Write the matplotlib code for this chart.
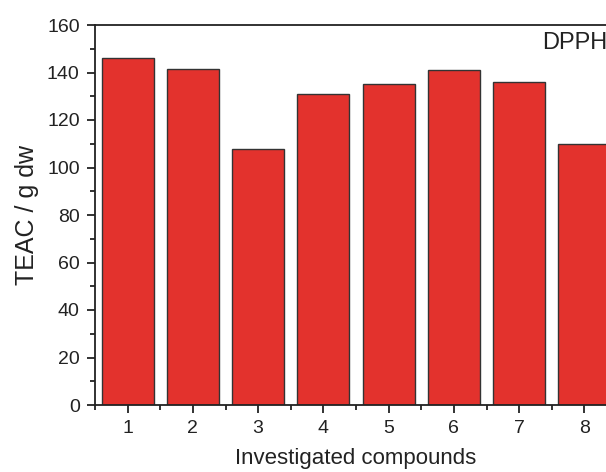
import matplotlib.pyplot as plt
from matplotlib.ticker import MultipleLocator

compounds = [1, 2, 3, 4, 5, 6, 7, 8]
teac = [146, 141.5, 108, 131, 135, 141, 136, 110]

plt.rcParams['font.family'] = ['Liberation Sans', 'DejaVu Sans']

fig = plt.figure(figsize=(6.06, 4.72), dpi=100)
ax = fig.add_axes([95 / 606, 67 / 472, 522 / 606, 380 / 472])

ax.bar(compounds, teac, width=0.8, color='#e3322d', edgecolor='#333333', linewidth=1.0)

ax.set_xlim(0.5, 8.5)
ax.set_ylim(0, 160)
ax.set_xticks(compounds)
ax.xaxis.set_minor_locator(MultipleLocator(0.5))
ax.yaxis.set_major_locator(MultipleLocator(20))
ax.yaxis.set_minor_locator(MultipleLocator(10))

ax.tick_params(axis='both', which='major', direction='out', length=6, width=1.3,
               labelsize=14, color='#222222', labelcolor='#222222', pad=5)
ax.tick_params(axis='both', which='minor', direction='out', length=3.5, width=1.3,
               color='#222222')
ax.tick_params(axis='x', which='both', top=False)
ax.tick_params(axis='y', which='both', right=False)
for s in ax.spines.values():
    s.set_linewidth(1.3)
    s.set_color('#222222')

ax.set_xlabel('Investigated compounds', fontsize=16, color='#222222', labelpad=8)
ax.set_ylabel('TEAC / g dw', fontsize=18, color='#222222', labelpad=6)

ax.text(0.856, 0.953, 'DPPH', transform=ax.transAxes, fontsize=17,
        va='center', ha='left', color='#222222')

fig.savefig('out.png', dpi=100)
